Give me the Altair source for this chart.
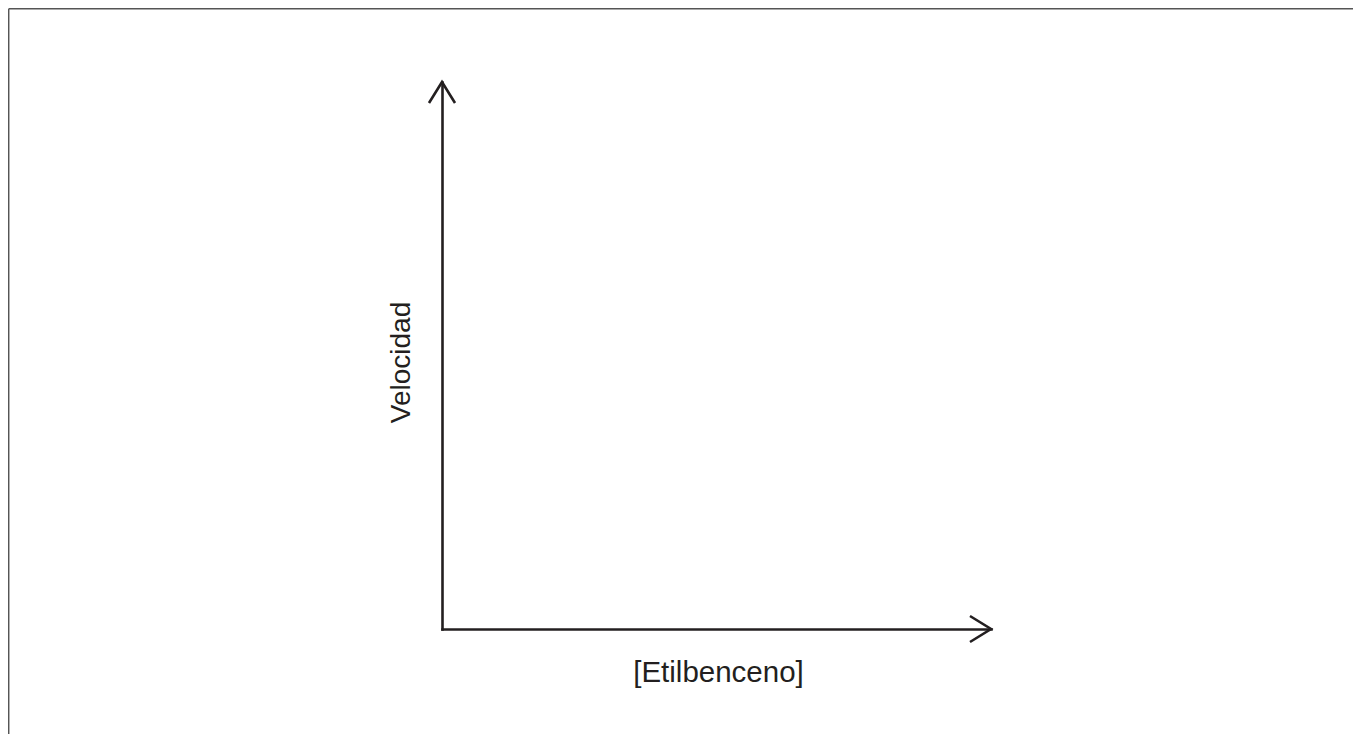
import altair as alt
import pandas as pd

# ---- data ----
x_title = "[Etilbenceno]"
y_title = "Velocidad"
x_domain = [0, 10]
y_domain = [0, 10]
# axis end points (where the arrow heads sit)
x_arrow_x = [10]
x_arrow_y = [0]
y_arrow_x = [0]
y_arrow_y = [10]

INK = "#231f20"
FONT = "Liberation Sans"

x_enc = alt.X(
    "x:Q",
    scale=alt.Scale(domain=x_domain, nice=False, zero=False),
    axis=alt.Axis(
        title=x_title, ticks=False, labels=False, grid=False,
        domainColor=INK, domainWidth=2.6, domainCap="square",
        titleFont=FONT, titleFontSize=29.5, titleFontWeight="normal",
        titleColor=INK, titleBaseline="alphabetic", titlePadding=52,
        titleX=276,
    ),
)
y_enc = alt.Y(
    "y:Q",
    scale=alt.Scale(domain=y_domain, nice=False, zero=False),
    axis=alt.Axis(
        title=y_title, ticks=False, labels=False, grid=False,
        domainColor=INK, domainWidth=2.6, domainCap="square",
        titleFont=FONT, titleFontSize=28, titleFontWeight="normal",
        titleColor=INK, titleBaseline="alphabetic", titlePadding=33,
        titleY=280,
    ),
)

right_arrow = alt.Chart(pd.DataFrame({"x": x_arrow_x, "y": x_arrow_y})).mark_point(
    shape="M-1,-0.62L0,0L-1,0.62", size=1764, filled=False, stroke=INK,
    strokeWidth=2.6, strokeJoin="miter", opacity=1,
).encode(x=x_enc, y=y_enc)

up_arrow = alt.Chart(pd.DataFrame({"x": y_arrow_x, "y": y_arrow_y})).mark_point(
    shape="M-0.62,1L0,0L0.62,1", size=1764, filled=False, stroke=INK,
    strokeWidth=2.6, strokeJoin="miter", opacity=1,
).encode(x=x_enc, y=y_enc)

one = pd.DataFrame({"k": [0]})
frame_top = alt.Chart(one).mark_rule(color="#555555", strokeWidth=1.5).encode(
    x=alt.value(-433.3), x2=alt.value(920), y=alt.value(-73.3)
)
frame_left = alt.Chart(one).mark_rule(color="#555555", strokeWidth=1.5).encode(
    x=alt.value(-433.3), y=alt.value(-73.3), y2=alt.value(660)
)

chart = alt.layer(right_arrow, up_arrow, frame_top, frame_left).properties(
    width=549,
    height=547,
    padding={"left": 434, "top": 74, "right": 362, "bottom": 105},
    autosize=alt.AutoSizeParams(type="none"),
    background="white",
).configure_view(stroke=None)

chart.save("out.html", embed_options={"renderer": "svg", "actions": False})
